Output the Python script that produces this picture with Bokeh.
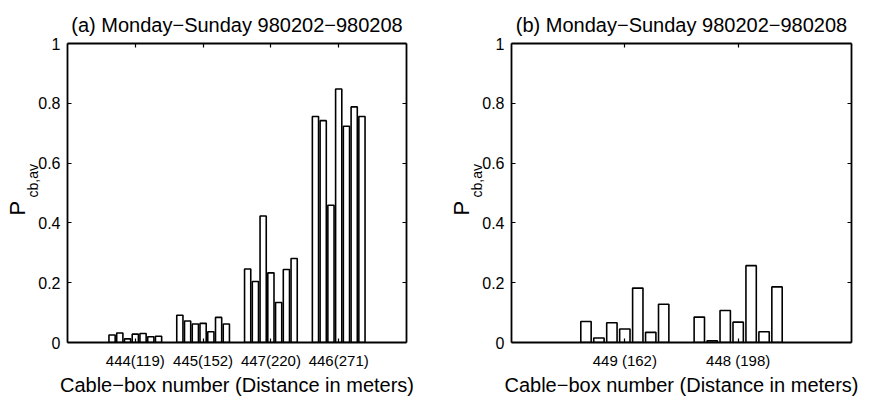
from bokeh.plotting import figure
from bokeh.layouts import row
from bokeh.models import Range1d, FixedTicker, LinearAxis, Title, ColumnDataSource
from bokeh.transform import dodge
from bokeh.embed import file_html
from bokeh.resources import INLINE

# ---------------- data ----------------
titles = ["(a) Monday\u2212Sunday 980202\u2212980208", "(b) Monday\u2212Sunday 980202\u2212980208"]
x_label = "Cable\u2212box number (Distance in meters)"
y_label_main = "P"
y_label_sub = "cb,av"

cats_a = ["444(119)", "445(152)", "447(220)", "446(271)"]
vals_a = [
    [0.025, 0.032, 0.012, 0.028, 0.030, 0.019, 0.021],   # 444
    [0.091, 0.072, 0.062, 0.064, 0.036, 0.084, 0.062],   # 445
    [0.246, 0.204, 0.423, 0.233, 0.134, 0.244, 0.281],   # 447
    [0.756, 0.742, 0.459, 0.848, 0.723, 0.788, 0.756],   # 446
]

cats_b = ["449 (162)", "448 (198)"]
vals_b = [
    [0.070, 0.015, 0.066, 0.045, 0.182, 0.034, 0.128],   # 449
    [0.085, 0.006, 0.107, 0.068, 0.257, 0.036, 0.186],   # 448
]

days = ["Mon", "Tue", "Wed", "Thu", "Fri", "Sat", "Sun"]
y_ticks = [0, 0.2, 0.4, 0.6, 0.8, 1]
y_tick_labels = ["0", "0.2", "0.4", "0.6", "0.8", "1"]

FONT = "Liberation Sans"
H = 398


def style_axis(ax, show_labels=True):
    ax.axis_line_color = "black"
    ax.axis_line_width = 1.8
    ax.major_tick_line_color = "black"
    ax.major_tick_line_width = 1.2
    ax.major_tick_in = 4
    ax.major_tick_out = 0
    ax.minor_tick_line_color = None
    ax.major_label_text_font = FONT
    ax.major_label_text_color = "black"
    ax.axis_label_text_font = FONT
    ax.axis_label_text_font_style = "normal"
    ax.axis_label_text_color = "black"
    if not show_labels:
        ax.major_label_text_color = None
        ax.major_label_text_font_size = "0px"
        ax.major_label_standoff = 0


def make_panel(title, cats, vals, width, bl, br):
    n = len(cats)
    p = figure(width=width, height=H, output_backend="svg", toolbar_location=None,
               x_range=Range1d(0, n + 1), y_range=Range1d(0, 1),
               min_border_left=bl, min_border_right=br,
               min_border_top=43, min_border_bottom=53, title=title)
    p.background_fill_color = "white"
    p.border_fill_color = "white"
    p.outline_line_color = None
    p.xgrid.visible = False
    p.ygrid.visible = False

    p.title.text_font = FONT
    p.title.text_font_size = "20px"
    p.title.text_font_style = "normal"
    p.title.text_color = "black"
    p.title.align = "center"
    p.title.standoff = 16

    data = {"grp": list(range(1, n + 1))}
    for j, d in enumerate(days):
        data[d] = [vals[i][j] for i in range(n)]
    src = ColumnDataSource(data)
    step = 0.8 / len(days)
    for j, d in enumerate(days):
        off = (j - (len(days) - 1) / 2) * step
        p.vbar(x=dodge("grp", off, range=p.x_range), top=d, width=step * 0.8, bottom=0,
               source=src, fill_color="white", line_color="black", line_width=1.6)

    xt = list(range(1, n + 1))
    p.xaxis.ticker = FixedTicker(ticks=xt)
    p.xaxis.major_label_overrides = {t: c for t, c in zip(xt, cats)}
    p.xaxis.axis_label = x_label
    style_axis(p.xaxis[0])
    p.xaxis.major_label_text_font_size = "15px"
    p.xaxis.major_label_standoff = 9
    p.xaxis.axis_label_text_font_size = "20px"
    p.xaxis.axis_label_standoff = 2

    p.yaxis.ticker = FixedTicker(ticks=y_ticks)
    p.yaxis.major_label_overrides = {t: l for t, l in zip(y_ticks, y_tick_labels)}
    style_axis(p.yaxis[0])
    p.yaxis.major_label_text_font_size = "16px"
    p.yaxis.major_label_standoff = 7

    top = LinearAxis(ticker=FixedTicker(ticks=xt))
    style_axis(top, show_labels=False)
    p.add_layout(top, "above")
    right = LinearAxis(ticker=FixedTicker(ticks=y_ticks))
    style_axis(right, show_labels=False)
    p.add_layout(right, "right")

    # y-axis label: P with subscript cb,av (two rotated titles on the left side)
    sub = Title(text=y_label_sub, align="left", offset=145, standoff=-10,
                text_font=FONT, text_font_size="14px", text_font_style="normal",
                text_color="black")
    p.add_layout(sub, "left")
    main = Title(text=y_label_main, align="left", offset=127, standoff=-5,
                 text_font=FONT, text_font_size="22px", text_font_style="normal",
                 text_color="black")
    p.add_layout(main, "left")
    return p


p1 = make_panel(titles[0], cats_a, vals_a, 430, 67, 24)
p2 = make_panel(titles[1], cats_b, vals_b, 442, 81, 21)
layout = row(p1, p2, spacing=0)

open("out.html", "w").write(file_html(layout, INLINE))
